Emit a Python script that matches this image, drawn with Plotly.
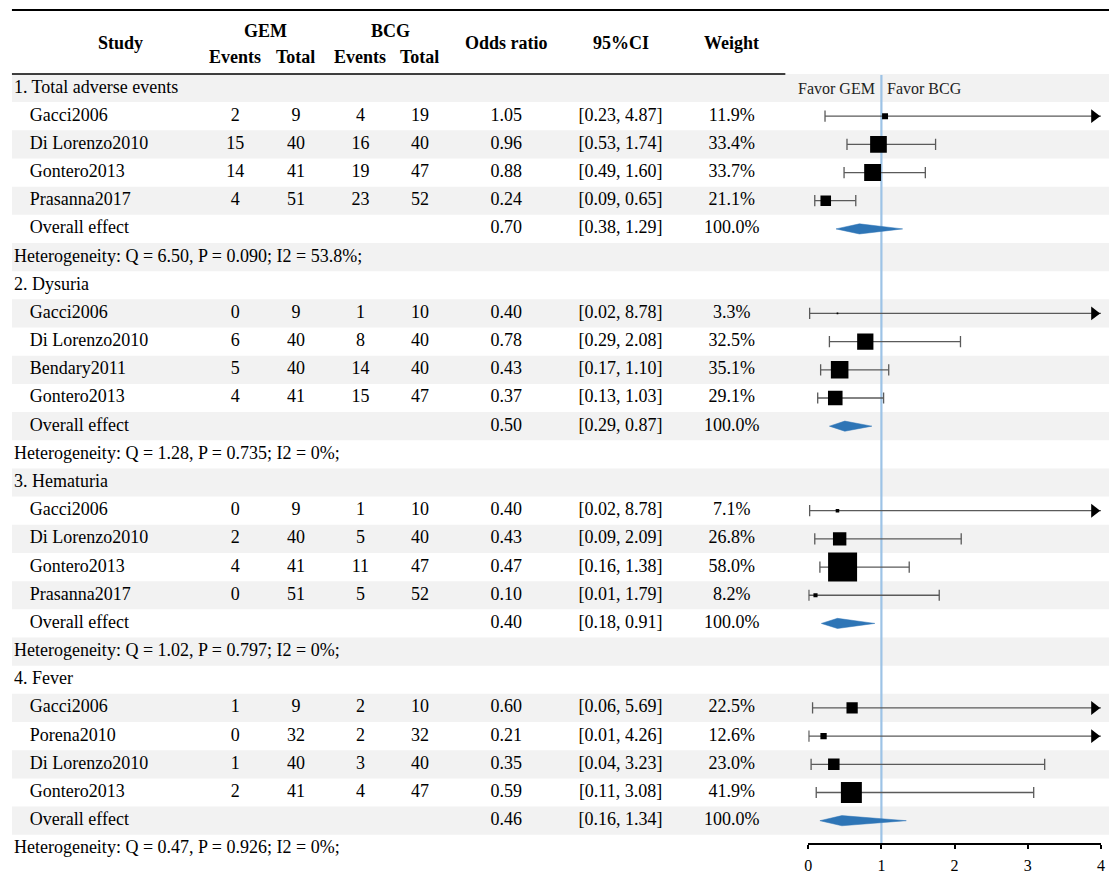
import math
import plotly.graph_objects as go

# ---------------- data ----------------
outcome_names = ["1. Total adverse events", "2. Dysuria", "3. Hematuria", "4. Fever"]
study_names = [
    ["Gacci2006", "Di Lorenzo2010", "Gontero2013", "Prasanna2017"],
    ["Gacci2006", "Di Lorenzo2010", "Bendary2011", "Gontero2013"],
    ["Gacci2006", "Di Lorenzo2010", "Gontero2013", "Prasanna2017"],
    ["Gacci2006", "Porena2010", "Di Lorenzo2010", "Gontero2013"],
]
gem_events = [[2, 15, 14, 4], [0, 6, 5, 4], [0, 2, 4, 0], [1, 0, 1, 2]]
gem_total = [[9, 40, 41, 51], [9, 40, 40, 41], [9, 40, 41, 51], [9, 32, 40, 41]]
bcg_events = [[4, 16, 19, 23], [1, 8, 14, 15], [1, 5, 11, 5], [2, 2, 3, 4]]
bcg_total = [[19, 40, 47, 52], [10, 40, 40, 47], [10, 40, 47, 52], [10, 32, 40, 47]]
odds_ratio = [[1.05, 0.96, 0.88, 0.24], [0.40, 0.78, 0.43, 0.37],
              [0.40, 0.43, 0.47, 0.10], [0.60, 0.21, 0.35, 0.59]]
ci_low = [[0.23, 0.53, 0.49, 0.09], [0.02, 0.29, 0.17, 0.13],
          [0.02, 0.09, 0.16, 0.01], [0.06, 0.01, 0.04, 0.11]]
ci_high = [[4.87, 1.74, 1.60, 0.65], [8.78, 2.08, 1.10, 1.03],
           [8.78, 2.09, 1.38, 1.79], [5.69, 4.26, 3.23, 3.08]]
weights = [[11.9, 33.4, 33.7, 21.1], [3.3, 32.5, 35.1, 29.1],
           [7.1, 26.8, 58.0, 8.2], [22.5, 12.6, 23.0, 41.9]]
overall_or = [0.70, 0.50, 0.40, 0.46]
overall_low = [0.38, 0.29, 0.18, 0.16]
overall_high = [1.29, 0.87, 0.91, 1.34]
overall_weight = [100.0, 100.0, 100.0, 100.0]
het_q = [6.50, 1.28, 1.02, 0.47]
het_p = [0.090, 0.735, 0.797, 0.926]
het_i2 = [53.8, 0, 0, 0]
x_ticks = [0, 1, 2, 3, 4]
null_value = 1

# ---------------- layout constants ----------------
W, H = 1113, 883
ROW0_PX, ROW_PX = 88, 28.18
Y_TOP = -ROW0_PX / ROW_PX
Y_BOT = (H - ROW0_PX) / ROW_PX
FONT = "Liberation Serif"
FS = 18
X_MIN, X_MAX = 0, 4
FX0, FX1 = 810 / W, 1105 / W
SHADE = "#f2f2f2"
CI_COLOR = "#5a5a5a"
DIAMOND_COLOR = "#2e75b6"
NULL_COLOR = "#9dc3e6"

COL_STUDY_LABEL = 10
COL_STUDY = 26
COL_GE, COL_GT, COL_BE, COL_BT = 233, 294, 359, 419
COL_OR, COL_CI, COL_W = 506, 621, 733

# ---------------- build rows ----------------
rows = []
for g, name in enumerate(outcome_names):
    rows.append({"kind": "group", "label": name})
    for s in range(len(study_names[g])):
        rows.append({
            "kind": "study", "label": study_names[g][s],
            "ge": gem_events[g][s], "gt": gem_total[g][s],
            "be": bcg_events[g][s], "bt": bcg_total[g][s],
            "or": odds_ratio[g][s], "lo": ci_low[g][s], "hi": ci_high[g][s],
            "w": weights[g][s],
        })
    rows.append({"kind": "overall", "label": "Overall effect",
                 "or": overall_or[g], "lo": overall_low[g], "hi": overall_high[g],
                 "w": overall_weight[g]})
    rows.append({"kind": "het",
                 "label": f"Heterogeneity: Q = {het_q[g]:.2f}, P = {het_p[g]:.3f}; I2 = {het_i2[g]:g}%;"})
n_rows = len(rows)
AXIS_ROW = n_rows - 1 - 0.18

fig = go.Figure()

shapes = []
for i in range(n_rows):
    if i % 2 == 0:
        shapes.append(dict(type="rect", xref="paper", yref="y", x0=8 / W, x1=1,
                           y0=i - 0.5, y1=i + 0.5, fillcolor=SHADE, line_width=0, layer="below"))
shapes.append(dict(type="line", xref="paper", yref="y", x0=8 / W, x1=1, y0=-2.77, y1=-2.77,
                   line=dict(color="black", width=2)))
shapes.append(dict(type="line", xref="paper", yref="y", x0=8 / W, x1=787 / W, y0=-0.5, y1=-0.5,
                   line=dict(color="black", width=1.5)))
shapes.append(dict(type="line", xref="x2", yref="y", x0=null_value, x1=null_value,
                   y0=-0.46, y1=AXIS_ROW, line=dict(color=NULL_COLOR, width=2.2), layer="below"))

# ---------------- table text ----------------
def text_trace(xs, ys, texts, pos="middle center"):
    return go.Scatter(x=xs, y=ys, text=texts, mode="text", textposition=pos,
                      textfont=dict(family=FONT, size=FS, color="black"),
                      xaxis="x", yaxis="y", hoverinfo="skip", showlegend=False, cliponaxis=False)

lab_i = [i for i, r in enumerate(rows) if r["kind"] in ("group", "het")]
fig.add_trace(text_trace([COL_STUDY_LABEL] * len(lab_i), lab_i, [rows[i]["label"] for i in lab_i], "middle right"))
st_i = [i for i, r in enumerate(rows) if r["kind"] in ("study", "overall")]
fig.add_trace(text_trace([COL_STUDY] * len(st_i), st_i, [rows[i]["label"] for i in st_i], "middle right"))

s_i = [i for i, r in enumerate(rows) if r["kind"] == "study"]
for col, key in [(COL_GE, "ge"), (COL_GT, "gt"), (COL_BE, "be"), (COL_BT, "bt")]:
    fig.add_trace(text_trace([col] * len(s_i), s_i, [str(rows[i][key]) for i in s_i]))
fig.add_trace(text_trace([COL_OR] * len(st_i), st_i, [f"{rows[i]['or']:.2f}" for i in st_i]))
fig.add_trace(text_trace([COL_CI] * len(st_i), st_i,
                         [f"[{rows[i]['lo']:.2f}, {rows[i]['hi']:.2f}]" for i in st_i]))
fig.add_trace(text_trace([COL_W] * len(st_i), st_i, [f"{rows[i]['w']:.1f}%" for i in st_i]))

# ---------------- forest ----------------
px_per_unit = (FX1 - FX0) * W / (X_MAX - X_MIN)
seg_x, seg_y, cap_x, cap_y, arr_y = [], [], [], [], []
for i in s_i:
    r = rows[i]
    hi = min(r["hi"], X_MAX)
    seg_x += [r["lo"], hi, None]
    seg_y += [i, i, None]
    cap_x.append(r["lo"]); cap_y.append(i)
    if r["hi"] > X_MAX:
        arr_y.append(i)
    else:
        cap_x.append(r["hi"]); cap_y.append(i)

fig.add_trace(go.Scatter(x=seg_x, y=seg_y, mode="lines", line=dict(color=CI_COLOR, width=1.3),
                         xaxis="x2", yaxis="y", hoverinfo="skip", showlegend=False))
fig.add_trace(go.Scatter(x=cap_x, y=cap_y, mode="markers",
                         marker=dict(symbol="line-ns", size=8, opacity=1,
                                     line=dict(color=CI_COLOR, width=1.3)),
                         xaxis="x2", yaxis="y", hoverinfo="skip", showlegend=False))
ARROW_SIZE = 12
arrow_offset = (ARROW_SIZE / math.sqrt(3)) / px_per_unit
fig.add_trace(go.Scatter(x=[X_MAX - arrow_offset] * len(arr_y), y=arr_y, mode="markers",
                         marker=dict(symbol="triangle-right", size=ARROW_SIZE, color="black", opacity=1),
                         xaxis="x2", yaxis="y", hoverinfo="skip", showlegend=False, cliponaxis=False))
fig.add_trace(go.Scatter(x=[rows[i]["or"] for i in s_i], y=s_i, mode="markers",
                         marker=dict(symbol="square", size=[rows[i]["w"] * 0.5 for i in s_i],
                                     color="black", opacity=1, line=dict(width=0)),
                         xaxis="x2", yaxis="y", hoverinfo="skip", showlegend=False))

o_i = [i for i, r in enumerate(rows) if r["kind"] == "overall"]
DH = 0.18
for i in o_i:
    r = rows[i]
    fig.add_trace(go.Scatter(x=[r["lo"], r["or"], r["hi"], r["or"], r["lo"]],
                             y=[i, i - DH, i, i + DH, i], mode="lines", fill="toself",
                             fillcolor=DIAMOND_COLOR, line=dict(color=DIAMOND_COLOR, width=0.5),
                             xaxis="x2", yaxis="y", hoverinfo="skip", showlegend=False))

# ---------------- annotations ----------------
ann = []
def hdr(x, y, t):
    ann.append(dict(x=x, y=y, xref="x", yref="y", text=f"<b>{t}</b>", showarrow=False,
                    font=dict(family=FONT, size=FS, color="black"), xanchor="center", yanchor="middle"))
hdr(117, -1.6, "Study")
hdr((COL_GE + COL_GT) / 2, -2.02, "GEM")
hdr((COL_BE + COL_BT) / 2, -2.02, "BCG")
for c, t in [(COL_GE, "Events"), (COL_GT, "Total"), (COL_BE, "Events"), (COL_BT, "Total")]:
    hdr(c, -1.1, t)
hdr(COL_OR, -1.6, "Odds ratio")
hdr(COL_CI, -1.6, "95%CI")
hdr(COL_W, -1.6, "Weight")
ann.append(dict(x=null_value, y=0, xref="x2", yref="y", text="Favor GEM", showarrow=False,
                xanchor="right", xshift=-4, font=dict(family=FONT, size=16, color="#222")))
ann.append(dict(x=null_value, y=0, xref="x2", yref="y", text="Favor BCG", showarrow=False,
                xanchor="left", xshift=4, font=dict(family=FONT, size=16, color="#222")))

axis_pos = (Y_BOT - AXIS_ROW) / (Y_BOT - Y_TOP)

fig.update_layout(
    width=W, height=H, margin=dict(l=0, r=0, t=0, b=0),
    paper_bgcolor="white", plot_bgcolor="rgba(0,0,0,0)",
    shapes=shapes, annotations=ann, showlegend=False,
    xaxis=dict(range=[0, W], domain=[0, 1], visible=False, fixedrange=True),
    yaxis=dict(range=[Y_BOT, Y_TOP], domain=[0, 1], visible=False, fixedrange=True),
    xaxis2=dict(range=[X_MIN, X_MAX], domain=[FX0, FX1], anchor="free", position=axis_pos,
                showline=True, linecolor="black", linewidth=1.5, ticks="outside", ticklen=4,
                tickcolor="black", tickwidth=1.5, tickvals=x_ticks, showgrid=False, zeroline=False,
                ticklabelstandoff=3,
                tickfont=dict(family=FONT, size=16, color="black"), fixedrange=True),
)

fig.write_html("out.html", config={"displayModeBar": False},
               post_script="document.body.style.margin='0';")
